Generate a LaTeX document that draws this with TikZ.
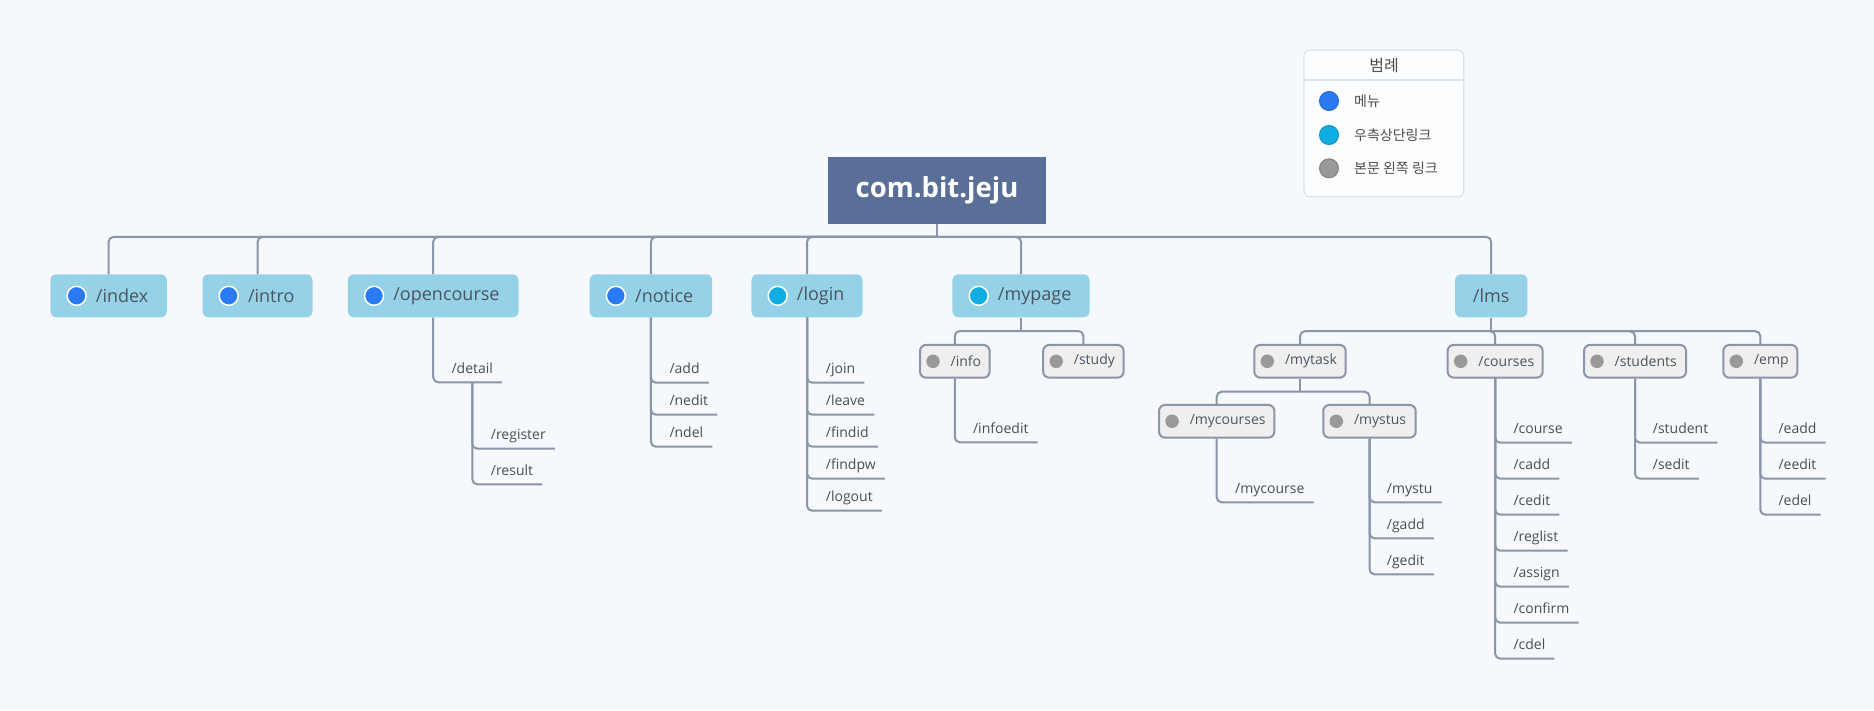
\documentclass[tikz,border=0pt]{standalone}
\usepackage{fontspec}
\setmainfont{Open Sans}
\newfontfamily\kr{Noto Sans CJK KR}
\usetikzlibrary{calc}
\definecolor{bg}{HTML}{F5F9FD}
\definecolor{conncol}{HTML}{8A95A8}
\definecolor{mainfill}{HTML}{96D2E7}
\definecolor{rootfill}{HTML}{5A6F98}
\definecolor{grayfill}{HTML}{EFEFEF}
\definecolor{dotblue}{HTML}{2A7AF3}
\definecolor{dotcyan}{HTML}{10ADE3}
\definecolor{dotgray}{HTML}{999999}
\definecolor{txt}{HTML}{4A5560}
\definecolor{leaftxt}{HTML}{4D4D4D}
\definecolor{legfill}{HTML}{FBFDFF}
\definecolor{legline}{HTML}{DDE2E8}
\tikzset{
  conn/.style={draw=conncol, line width=2pt, rounded corners=5pt},
  mainbox/.style={rectangle, rounded corners=6pt, fill=mainfill, minimum height=43pt, inner sep=0pt},
  rootbox/.style={rectangle, fill=rootfill, minimum width=217.4pt, minimum height=67pt, inner sep=0pt, text=white, font=\fontsize{27.5}{31}\selectfont\bfseries},
  subbox/.style={rectangle, rounded corners=6pt, fill=grayfill, draw=conncol, line width=2pt, minimum height=32.7pt, inner sep=0pt},
  maintext/.style={anchor=west, inner sep=0pt, text=txt, font=\fontsize{18}{20}\selectfont},
  subtext/.style={anchor=west, inner sep=0pt, text=txt, font=\fontsize{14}{16}\selectfont},
  leaf/.style={anchor=south west, inner sep=0pt, text height=11pt, text depth=9pt, text=leaftxt, font=\fontsize{14}{16}\selectfont},
  bigdot/.style={circle, draw=white, line width=1.5pt, minimum size=19pt, inner sep=0pt},
  smalldot/.style={circle, fill=dotgray, minimum size=13.5pt, inner sep=0pt},
  legdot/.style={circle, line width=1pt, minimum size=19pt, inner sep=0pt},
  legtext/.style={anchor=west, inner sep=0pt, text=leaftxt, font=\kr\fontsize{14}{16}\selectfont}
}
\newcommand{\mkmain}[5]{%
  \node[mainbox, minimum width=#3pt] (#1) at (#2,295.8) {};
  \node[bigdot, fill=#4] (#1-dot) at ($(#1.west)+(26.4,0)$) {};
  \node[maintext] (#1-t) at ($(#1.west)+(45.5,0)$) {#5};}
\newcommand{\mksub}[5]{%
  \node[subbox, minimum width=#4pt] (#1) at (#2,#3) {};
  \node[smalldot] (#1-dot) at ($(#1.west)+(14,0)$) {};
  \node[subtext] (#1-t) at ($(#1.west)+(31.5,0)$) {#5};}
\newcommand{\mkleaves}[5]{%
  \foreach \t [count=\i from 0] in {#5} {%
    \node[leaf] (l-\t) at (#2,#3+#4*\i) {/\t};
    \draw[conn] (#1.south) |- ([xshift=9pt]l-\t.south east);
  }}
\begin{document}
\begin{tikzpicture}[x=1pt,y=-1pt]
\fill[bg] (0,0) rectangle (1874,710);
\useasboundingbox (0,0) rectangle (1874,710);

% legend
\node[rectangle, rounded corners=6pt, fill=legfill, draw=legline, line width=1.2pt, minimum width=159.7pt, minimum height=146.7pt, inner sep=0pt] (legend) at (1383.85,123.35) {};
\draw[legline, line width=1.2pt] (1304,80) -- (1463.7,80);
\node[inner sep=0pt, text=leaftxt, font=\kr\fontsize{16}{18}\selectfont] (legtitle) at (1384,66) {범례};
\node[legdot, fill=dotblue, draw=dotblue!85!black] (lg1) at (1329,101) {};
\node[legtext] (lg1-t) at (1354,101) {메뉴};
\node[legdot, fill=dotcyan, draw=dotcyan!85!black] (lg2) at (1329,135) {};
\node[legtext] (lg2-t) at (1354,135) {우측상단링크};
\node[legdot, fill=dotgray, draw=dotgray!85!black] (lg3) at (1329,168.3) {};
\node[legtext] (lg3-t) at (1354,168.3) {본문 왼쪽 링크};

% root
\node[rootbox] (root) at (937,190.2) {com.bit.jeju};

% main level
\mkmain{index}{108.6}{116.4}{dotblue}{/index}
\mkmain{intro}{257.5}{110}{dotblue}{/intro}
\mkmain{opencourse}{433.2}{170.7}{dotblue}{/opencourse}
\mkmain{notice}{650.9}{122.5}{dotblue}{/notice}
\mkmain{login}{807}{111.1}{dotcyan}{/login}
\mkmain{mypage}{1021}{137.1}{dotcyan}{/mypage}
\node[mainbox, minimum width=72.3pt, text=txt, font=\fontsize{18}{20}\selectfont] (lms) at (1491.2,295.8) {/lms};

\draw[conn] (root.south) -- ++(0,13) coordinate (rootbus);
\foreach \n in {index,intro,opencourse,notice,login,mypage,lms}
  \draw[conn] (rootbus) -| (\n.north);

% sub boxes
\mksub{info}{954.8}{361.3}{69.6}{/info}
\mksub{study}{1083.4}{361.3}{80.4}{/study}
\mksub{mytask}{1300}{361.3}{91.4}{/mytask}
\mksub{courses}{1495.2}{361.3}{95}{/courses}
\mksub{students}{1635}{361.3}{102}{/students}
\mksub{emp}{1760.3}{361.3}{74}{/emp}
\mksub{mycourses}{1216.7}{421.3}{115.3}{/mycourses}
\mksub{mystus}{1369.5}{421.3}{92.4}{/mystus}

\draw[conn] (mypage.south) -- ++(0,13.5) coordinate (mpbus);
\foreach \n in {info,study} \draw[conn] (mpbus) -| (\n.north);
\draw[conn] (lms.south) -- ++(0,13.7) coordinate (lmsbus);
\foreach \n in {mytask,courses,students,emp} \draw[conn] (lmsbus) -| (\n.north);
\draw[conn] (mytask.south) -- ++(0,13) coordinate (mtbus);
\foreach \n in {mycourses,mystus} \draw[conn] (mtbus) -| (\n.north);

% leaves
\mkleaves{opencourse}{451.4}{382.3}{36}{detail}
\mkleaves{l-detail}{490.7}{448.7}{35.6}{register,result}
\mkleaves{notice}{669.3}{382.7}{32}{add,nedit,ndel}
\mkleaves{login}{825.7}{382.7}{32}{join,leave,findid,findpw,logout}
\mkleaves{info}{972.9}{442.3}{36}{infoedit}
\mkleaves{mycourses}{1235}{502.3}{36}{mycourse}
\mkleaves{mystus}{1386.7}{502.3}{36}{mystu,gadd,gedit}
\mkleaves{courses}{1513.3}{442.7}{36}{course,cadd,cedit,reglist,assign,confirm,cdel}
\mkleaves{students}{1652.7}{442.7}{36}{student,sedit}
\mkleaves{emp}{1778.3}{442.7}{36}{eadd,eedit,edel}
\end{tikzpicture}
\end{document}
